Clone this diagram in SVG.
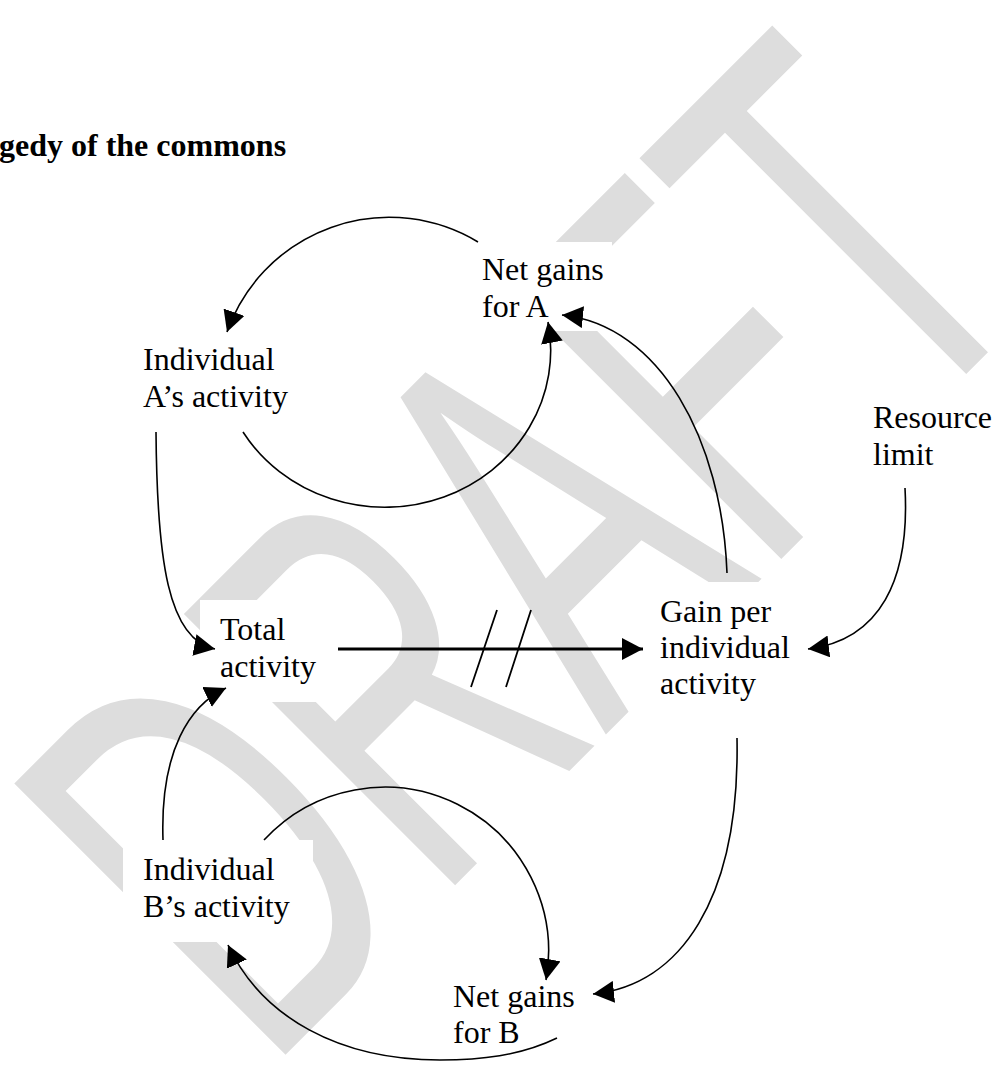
<svg xmlns="http://www.w3.org/2000/svg" width="997" height="1071" viewBox="0 0 997 1071">
<defs>
<style>
.t{font-size:32px;fill:#000}
.title{font-weight:bold}
.box{fill:#fff}
.c{fill:none;stroke:#000;stroke-width:1.6;marker-end:url(#ah)}
.thick{stroke-width:3}
.slash{fill:none;stroke:#000;stroke-width:1.8}
.wm{font-size:100px;fill:#dddddd}
</style>
<marker id="ah" markerUnits="userSpaceOnUse" markerWidth="22" markerHeight="22" refX="21" refY="11" orient="auto"><path d="M0,0 L21,11 L0,22 z" fill="#000"/></marker>
</defs>
<rect width="997" height="1071" fill="#fff"/>
<g id="watermark" font-family="Liberation Sans, Arial, sans-serif"><text class="wm" transform="matrix(2.348 -2.348 3.943 3.943 266.3 1074)">DRAFT</text></g>
<g font-family="Liberation Serif, Times New Roman, DejaVu Serif, serif">
<g id="title"><text class="t title" x="-1" y="156">gedy of the commons</text></g>
<g id="net-gains-a"><rect class="box" x="462" y="242" width="150" height="89"/><text class="t" x="482" y="280">Net gains</text><text class="t" x="482" y="317">for A</text></g>
<g id="individual-a"><rect class="box" x="123" y="330" width="190" height="102"/><text class="t" x="143" y="370">Individual</text><text class="t" x="143" y="407">A’s activity</text></g>
<g id="resource-limit"><rect class="box" x="853" y="388" width="144" height="100"/><text class="t" x="873" y="428">Resource</text><text class="t" x="873" y="465">limit</text></g>
<g id="total-activity"><rect class="box" x="200" y="600" width="135" height="102"/><text class="t" x="220" y="640">Total</text><text class="t" x="220" y="677">activity</text></g>
<g id="gain-per"><rect class="box" x="640" y="582" width="168" height="137"/><text class="t" x="660" y="622">Gain per</text><text class="t" x="660" y="658">individual</text><text class="t" x="660" y="694">activity</text></g>
<g id="individual-b"><rect class="box" x="123" y="840" width="190" height="102"/><text class="t" x="143" y="880">Individual</text><text class="t" x="143" y="917">B’s activity</text></g>
<g id="net-gains-b"><rect class="box" x="433" y="967" width="161" height="101"/><text class="t" x="453" y="1007">Net gains</text><text class="t" x="453" y="1043">for B</text></g>
</g>
<g id="connectors">
<path class="c" d="M478,242 A172,172 0 0,0 227,332"/>
<path class="c" d="M243,432 A166,157 0 0,0 548,322"/>
<path class="c" d="M156,432 C157,560 168,640 215,649"/>
<path class="c thick" d="M338,649 L643,649"/>
<path class="slash" d="M497,610 L471,687 M531,610 L506,687"/>
<path class="c" d="M727,573 C722,440 660,325 562,315"/>
<path class="c" d="M905,488 C910,580 880,640 808,649"/>
<path class="c" d="M163,840 C160,750 190,705 226,688"/>
<path class="c" d="M264,840 A164,164 0 0,1 546,980"/>
<path class="c" d="M557,1038 C520,1056 480,1060 440,1060 C340,1060 262,1018 228,945"/>
<path class="c" d="M737,738 C740,900 680,985 593,994"/>
</g>
</svg>
